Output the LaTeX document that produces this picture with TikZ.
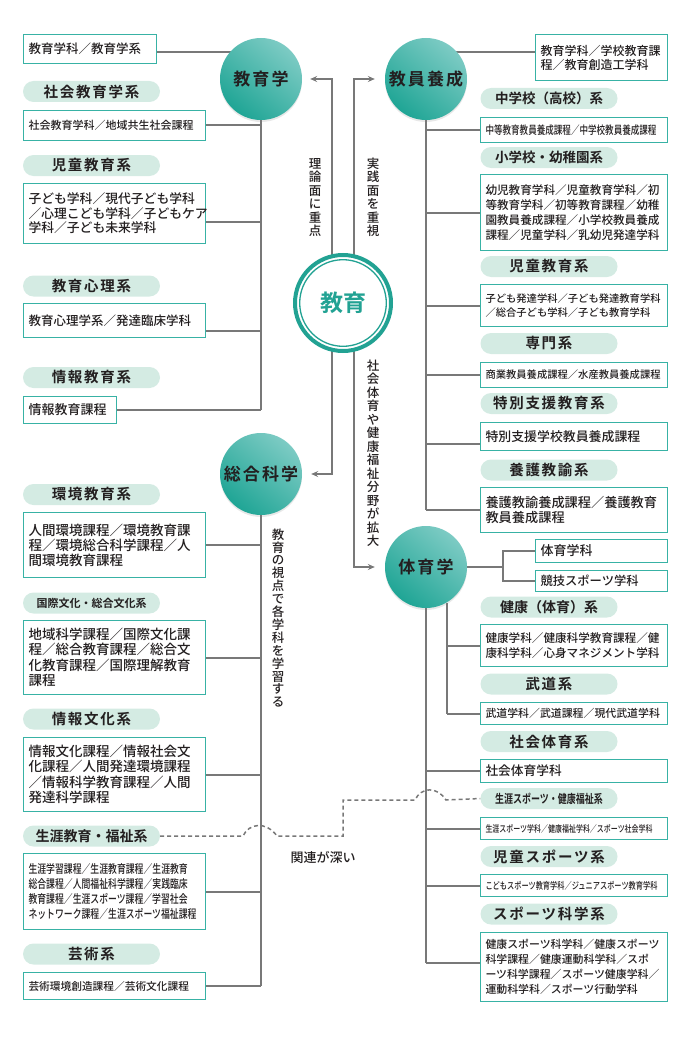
\documentclass[tikz,border=0pt]{standalone}
\usepackage{fontspec}
\setmainfont{Noto Sans CJK JP}[BoldFont={* Bold}]
\newfontfamily\narrowjp{Noto Sans CJK JP Medium}[FakeStretch=0.75,BoldFont={Noto Sans CJK JP Bold}]
\newfontfamily\pilljp{Noto Sans CJK JP}[LetterSpace=12,BoldFont={* Bold}]
\newfontfamily\notejp{Noto Sans CJK JP Medium}
\usepackage{xcolor}
\usetikzlibrary{arrows.meta,positioning,backgrounds,shadows}
\definecolor{bubD}{HTML}{1FA595}
\definecolor{bubL}{HTML}{7DCBC4}
\definecolor{ringC}{HTML}{22A293}
\definecolor{pillC}{HTML}{D4EBE3}
\definecolor{boxC}{HTML}{38B2A5}
\definecolor{lineC}{HTML}{787878}
\definecolor{inkC}{HTML}{231F20}
\tikzset{
  bub/.style  ={circle,minimum size=82pt,inner sep=0pt,top color=bubL,bottom color=bubD,shading angle=-40,
                drop shadow={opacity=0.18,shadow xshift=0pt,shadow yshift=-2pt},
                text=inkC,font=\pilljp\bfseries\fontsize{17}{20}\selectfont},
  hub/.style  ={circle,draw=ringC,line width=4pt,fill=white,minimum size=96pt,inner sep=0pt,
                text=ringC,font=\bfseries\fontsize{23}{25}\selectfont},
  pill/.style ={rounded corners=10.5pt,fill=pillC,minimum width=137pt,minimum height=21pt,inner sep=0pt,
                text=inkC,font=\pilljp\bfseries\fontsize{14.5}{16}\selectfont},
  kbox/.style ={draw=boxC,line width=1pt,fill=white,anchor=north west,align=left,inner xsep=5pt,inner ysep=0pt,
                text=inkC,text width=#1pt},
  link/.style ={lineC,line width=2pt},
  arr/.style  ={link,-{Stealth[length=7pt,width=6pt,inset=2.5pt]}},
  dlink/.style={lineC,line width=1.5pt,dash pattern=on 4pt off 3pt},
  vlab/.style ={align=center,inner sep=0pt,text=inkC,font=\notejp\fontsize{12.5}{13.5}\selectfont},
}
\newcommand{\bx}[2]{\notejp\fontsize{#1}{#2}\selectfont}

\begin{document}
\begin{tikzpicture}[x=1pt,y=-1pt]
  \useasboundingbox (0,0) rectangle (691,1038);
  % centre and the four fields
  \node[hub] (kyoiku) at (343,303) {教育};
  \draw[ringC,line width=1.3pt] (kyoiku.center) circle (43.3pt);
  \node[bub] (kyoikugaku) at (261,79) {教育学};
  \node[bub] (kyoin) at (426,79) {教員養成};
  \node[bub] (sogo) at (261,474) {総合科学};
  \node[bub] (taiiku) at (426,567) {体育学};

  % left column headings
  \foreach \i/\y/\txt in {1/91.5/社会教育学系, 2/165.5/児童教育系, 3/286/教育心理系, 4/377.5/情報教育系,
                          5/494.5/環境教育系, 7/719/情報文化系, 9/954/芸術系}
    \node[pill] (lp\i) at (91.5,\y) {\txt};
  \node[pill,font=\bfseries\fontsize{11}{13}\selectfont] (lp6) at (91.5,603) {国際文化・総合文化系};
  \node[pill,font=\bfseries\fontsize{14}{16}\selectfont] (lp8) at (91.5,836) {生涯教育・福祉系};

  % right column headings
  \foreach \i/\y/\txt in {3/266.5/児童教育系, 4/343.5/専門系,
                          5/403.5/特別支援教育系, 6/470/養護教諭系, 8/684/武道系,
                          9/741.5/社会体育系, 11/856.5/児童スポーツ系, 12/914/スポーツ科学系}
    \node[pill] (rp\i) at (549,\y) {\txt};
  \node[pill,font=\bfseries\fontsize{13.5}{16}\selectfont] (rp1) at (549,98.5) {中学校（高校）系};
  \node[pill,font=\bfseries\fontsize{13.5}{16}\selectfont] (rp2) at (549,157.5) {小学校・幼稚園系};
  \node[pill,font=\bfseries\fontsize{14}{16}\selectfont] (rp7) at (549,607) {健康（体育）系};
  \node[pill,font=\narrowjp\bfseries\fontsize{12}{14}\selectfont] (rp10) at (549,798.5) {生涯スポーツ・健康福祉系};

  % left boxes
  \node[kbox=123,minimum height=29pt,font=\bx{12.5}{14}] (lk1) at (23,34) {教育学科／教育学系};
  \node[kbox=172,minimum height=30pt,font=\bx{11}{14}] (lk2) at (23,110) {社会教育学科／地域共生社会課程};
  \node[kbox=172,minimum height=60pt,font=\bx{12.8}{14.5}] (lk3) at (23,183)
    {子ども学科／現代子ども学科\\／心理こども学科／子どもケア\\学科／子ども未来学科};
  \node[kbox=172,minimum height=34pt,font=\bx{12.5}{14}] (lk4) at (23,303) {教育心理学系／発達臨床学科};
  \node[kbox=83,minimum height=27pt,font=\bx{13}{14}] (lk5) at (23,396) {情報教育課程};
  \node[kbox=172,minimum height=65pt,font=\bx{13.5}{15}] (lk6) at (23,512)
    {人間環境課程／環境教育課\\程／環境総合科学課程／人\\間環境教育課程};
  \node[kbox=172,minimum height=74pt,font=\bx{13.5}{15.5}] (lk7) at (23,620)
    {地域科学課程／国際文化課\\程／総合教育課程／総合文\\化教育課程／国際理解教育\\課程};
  \node[kbox=172,minimum height=74pt,font=\bx{13.5}{15.5}] (lk8) at (23,737)
    {情報文化課程／情報社会文\\化課程／人間発達環境課程\\／情報科学教育課程／人間\\発達科学課程};
  \node[kbox=172,minimum height=76pt,font=\narrowjp\fontsize{11.8}{15}\selectfont] (lk9) at (23,853)
    {生涯学習課程／生涯教育課程／生涯教育\\総合課程／人間福祉科学課程／実践臨床\\教育課程／生涯スポーツ課程／学習社会\\ネットワーク課程／生涯スポーツ福祉課程};
  \node[kbox=172,minimum height=27pt,font=\bx{10.7}{13}] (lk10) at (23,972) {芸術環境創造課程／芸術文化課程};

  % right boxes
  \node[kbox=122,minimum height=46pt,font=\bx{12}{14}] (rk1) at (535,34) {教育学科／学校教育課\\程／教育創造工学科};
  \node[kbox=177,minimum height=25pt,font=\narrowjp\fontsize{11.4}{13}\selectfont] (rk2) at (480,117) {中等教育教員養成課程／中学校教員養成課程};
  \node[kbox=177,minimum height=76pt,font=\bx{11.6}{15}] (rk3) at (480,174)
    {幼児教育学科／児童教育学科／初\\等教育学科／初等教育課程／幼稚\\園教員養成課程／小学校教員養成\\課程／児童学科／乳幼児発達学科};
  \node[kbox=177,minimum height=42pt,font=\bx{10.3}{14.5}] (rk4) at (480,284)
    {子ども発達学科／子ども発達教育学科\\／総合子ども学科／子ども教育学科};
  \node[kbox=177,minimum height=25pt,font=\bx{10.3}{13}] (rk5) at (480,362) {商業教員養成課程／水産教員養成課程};
  \node[kbox=177,minimum height=28pt,font=\bx{12.9}{14}] (rk6) at (480,422) {特別支援学校教員養成課程};
  \node[kbox=177,minimum height=45pt,font=\bx{13.2}{15.5}] (rk7) at (480,487) {養護教諭養成課程／養護教育\\教員養成課程};
  \node[kbox=122,minimum height=23pt,font=\bx{13}{14}] (rt1) at (535,539) {体育学科};
  \node[kbox=122,minimum height=21pt,font=\bx{12.3}{14}] (rt2) at (535,570) {競技スポーツ学科};
  \node[kbox=177,minimum height=42pt,font=\bx{11.6}{15}] (rk8) at (480,624)
    {健康学科／健康科学教育課程／健\\康科学科／心身マネジメント学科};
  \node[kbox=177,minimum height=22pt,font=\bx{10.9}{13}] (rk9) at (480,702) {武道学科／武道課程／現代武道学科};
  \node[kbox=177,minimum height=23pt,font=\bx{12.7}{14}] (rk10) at (480,759) {社会体育学科};
  \node[kbox=177,minimum height=22pt,font=\narrowjp\fontsize{9.3}{11}\selectfont] (rk11) at (480,817) {生涯スポーツ学科／健康福祉学科／スポーツ社会学科};
  \node[kbox=177,minimum height=22pt,font=\narrowjp\fontsize{9.6}{11}\selectfont] (rk12) at (480,874) {こどもスポーツ教育学科／ジュニアスポーツ教育学科};
  \node[kbox=177,minimum height=69pt,font=\bx{10.9}{15}] (rk13) at (480,932)
    {健康スポーツ科学科／健康スポーツ\\科学課程／健康運動科学科／スポ\\ーツ科学課程／スポーツ健康学科／\\運動科学科／スポーツ行動学科};

  % side notes
  \node[vlab] (riron) at (315,197.5) {理\\論\\面\\に\\重\\点};
  \node[vlab] (jissen) at (373,197.5) {実\\践\\面\\を\\重\\視};
  \node[vlab] (kakudai) at (373,453) {社\\会\\体\\育\\や\\健\\康\\福\\祉\\分\\野\\が\\拡\\大};
  \node[vlab,font=\notejp\fontsize{12.5}{12.9}\selectfont] (shiten) at (278,618)
    {教\\育\\の\\視\\点\\で\\各\\学\\科\\を\\学\\習\\す\\る};
  \node[text=inkC,font=\notejp\fontsize{13}{14}\selectfont] (kanren) at (323,857) {関連が深い};

  \begin{scope}[on background layer]
    % from the centre
    \draw[arr,shorten >=8pt] ([xshift=-11pt]kyoiku.center) |- (kyoikugaku.east);
    \draw[arr,shorten >=10pt] ([xshift=11pt]kyoiku.center) |- (kyoin.west);
    \draw[arr,shorten >=9pt] ([xshift=-11pt]kyoiku.center) |- (sogo.east);
    \draw[arr,shorten >=10pt] ([xshift=11pt]kyoiku.center) |- (taiiku.west);

    % 教育学
    \draw[link] ([yshift=-3pt]lk1.east) -- ([yshift=-3pt]lk1.east -| kyoikugaku.center);
    \draw[link] (kyoikugaku.south) -- (kyoikugaku.south |- lk5.east);
    \foreach \b/\dy in {lk2/0,lk3/-8,lk4/-10,lk5/0}
      \draw[link] ([yshift=\dy pt]\b.east) -- ([yshift=\dy pt]\b.east -| kyoikugaku.south);

    % 総合科学
    \draw[link] (sogo.south) -- (sogo.south |- lk10.east);
    \foreach \b in {lk6,lk7,lk8,lk9,lk10}
      \draw[link] (\b.east) -- (\b.east -| sogo.south);

    % 教員養成
    \draw[link] ([yshift=5pt]rk1.west) -- ([yshift=5pt]rk1.west -| kyoin.center);
    \draw[link] (kyoin.south) -- (kyoin.south |- rk7.west);
    \foreach \b/\dy in {rk2/0,rk3/0,rk4/0,rk5/0,rk6/-7,rk7/0}
      \draw[link] ([yshift=\dy pt]\b.west) -- ([yshift=\dy pt]\b.west -| kyoin.south);

    % 体育学
    \draw[link] (taiiku.east) -- ++(36,0) coordinate (tfork);
    \draw[link] (rt1.west) -| (tfork) |- (rt2.west);
    \draw[link] (taiiku.south) -- ([yshift=4pt]taiiku.south |- rk13.west);
    \foreach \b/\dy in {rk10/0,rk11/0,rk12/0,rk13/4}
      \draw[link] ([yshift=\dy pt]\b.west) -- ([yshift=\dy pt]\b.west -| taiiku.south);
    \draw[link] (taiiku.-60) -- (taiiku.-60 |- rk9.west);
    \foreach \b in {rk8,rk9}
      \draw[link] (\b.west) -- (\b.west -| taiiku.-60);

    % 関連が深い
    \draw[dlink] (lp8.east) -- (243,836) .. controls (249,823) and (266,821) .. (277,836)
      -| (343,800) -- (415,800) .. controls (421,787) and (437,786) .. (446,800) -- (rp10.west);
  \end{scope}
\end{tikzpicture}
\end{document}
